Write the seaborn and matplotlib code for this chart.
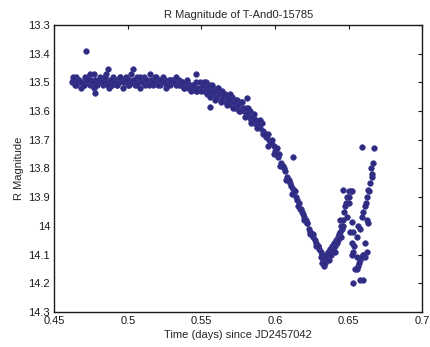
import numpy as np
import pandas as pd
import seaborn as sns
import matplotlib
matplotlib.use('Agg')
import matplotlib.pyplot as plt

# Pontos (tempo em dias desde JD2457042, magnitude R)
plateau_t = [0.462, 0.463, 0.464, 0.465, 0.466, 0.467, 0.468, 0.469, 0.470, 0.471,
             0.472, 0.473, 0.474, 0.475, 0.476, 0.477, 0.478, 0.479, 0.480, 0.481,
             0.482, 0.483, 0.484, 0.485, 0.486, 0.487, 0.488, 0.489, 0.490, 0.491,
             0.492, 0.493, 0.494, 0.495, 0.496, 0.497, 0.498, 0.499, 0.500, 0.501,
             0.502, 0.503, 0.504, 0.505, 0.506, 0.507, 0.508, 0.509, 0.510, 0.511,
             0.512, 0.513, 0.514, 0.515, 0.516, 0.517, 0.518, 0.519, 0.520, 0.521,
             0.522, 0.523, 0.524, 0.525, 0.526, 0.527, 0.528, 0.529, 0.530, 0.531,
             0.532, 0.533, 0.534, 0.535, 0.536, 0.537, 0.538, 0.539, 0.540, 0.541,
             0.542, 0.543, 0.544, 0.545, 0.546, 0.547, 0.548]
plateau_m = [13.50, 13.49, 13.51, 13.48, 13.50, 13.49, 13.52, 13.50, 13.51, 13.48,
             13.50, 13.48, 13.51, 13.49, 13.50, 13.52, 13.49, 13.51, 13.50, 13.48,
             13.49, 13.51, 13.50, 13.47, 13.50, 13.52, 13.49, 13.51, 13.48, 13.50,
             13.49, 13.51, 13.50, 13.48, 13.49, 13.52, 13.50, 13.48, 13.51, 13.49,
             13.47, 13.50, 13.49, 13.51, 13.48, 13.50, 13.52, 13.49, 13.50, 13.48,
             13.51, 13.49, 13.50, 13.47, 13.49, 13.51, 13.50, 13.48, 13.50, 13.49,
             13.51, 13.50, 13.48, 13.49, 13.52, 13.50, 13.49, 13.51, 13.49, 13.50,
             13.49, 13.51, 13.50, 13.49, 13.51, 13.50, 13.52, 13.51, 13.50, 13.52,
             13.51, 13.53, 13.51, 13.52, 13.50, 13.53, 13.52]

plateau2_t = [0.4625, 0.4645, 0.4665, 0.4685, 0.4705, 0.4725, 0.4745, 0.4765, 0.4785, 0.4805,
              0.4825, 0.4845, 0.4865, 0.4885, 0.4905, 0.4925, 0.4945, 0.4965, 0.4985, 0.5005,
              0.5025, 0.5045, 0.5065, 0.5085, 0.5105, 0.5125, 0.5145, 0.5165, 0.5185, 0.5205,
              0.5225, 0.5245, 0.5265, 0.5285, 0.5305, 0.5325, 0.5345, 0.5365, 0.5385, 0.5405,
              0.5425, 0.5445, 0.5465]
plateau2_m = [13.48, 13.51, 13.49, 13.50, 13.51, 13.49, 13.47, 13.50, 13.51, 13.49,
              13.50, 13.48, 13.51, 13.49, 13.50, 13.51, 13.48, 13.50, 13.49, 13.51,
              13.50, 13.49, 13.51, 13.48, 13.50, 13.49, 13.51, 13.50, 13.48, 13.51,
              13.49, 13.50, 13.51, 13.49, 13.50, 13.48, 13.51, 13.50, 13.52, 13.49,
              13.52, 13.51, 13.53]

descida_t = [0.549, 0.550, 0.551, 0.552, 0.553, 0.554, 0.555, 0.556, 0.557, 0.558,
             0.559, 0.560, 0.561, 0.562, 0.563, 0.564, 0.565, 0.566, 0.567, 0.568,
             0.569, 0.570, 0.571, 0.572, 0.573, 0.574, 0.575, 0.576, 0.577, 0.578,
             0.579, 0.580, 0.581, 0.582, 0.583, 0.584, 0.585, 0.586, 0.587, 0.588,
             0.589, 0.590, 0.591, 0.592, 0.593, 0.594, 0.595, 0.596, 0.597, 0.598,
             0.599, 0.600, 0.601, 0.602, 0.603, 0.604, 0.605, 0.606, 0.607, 0.608,
             0.609, 0.610, 0.611, 0.612, 0.613, 0.614, 0.615, 0.616, 0.617, 0.618,
             0.619, 0.620, 0.621, 0.622, 0.623, 0.624, 0.625, 0.626, 0.627, 0.628,
             0.629, 0.630, 0.631, 0.632, 0.633]
descida_m = [13.50, 13.52, 13.51, 13.53, 13.50, 13.52, 13.53, 13.51, 13.54, 13.52,
             13.53, 13.55, 13.52, 13.54, 13.56, 13.53, 13.55, 13.54, 13.57, 13.55,
             13.56, 13.58, 13.55, 13.57, 13.59, 13.56, 13.58, 13.60, 13.57, 13.59,
             13.60, 13.59, 13.61, 13.62, 13.60, 13.63, 13.62, 13.64, 13.63, 13.65,
             13.65, 13.66, 13.64, 13.67, 13.68, 13.69, 13.68, 13.70, 13.71, 13.70,
             13.72, 13.74, 13.73, 13.76, 13.75, 13.78, 13.79, 13.80, 13.81, 13.83,
             13.84, 13.85, 13.86, 13.87, 13.88, 13.90, 13.91, 13.92, 13.94, 13.95,
             13.96, 13.97, 13.98, 13.99, 14.01, 14.02, 14.03, 14.04, 14.05, 14.06,
             14.07, 14.08, 14.09, 14.10, 14.11]

descida2_t = [0.5495, 0.5515, 0.5535, 0.5555, 0.5575, 0.5595, 0.5615, 0.5635, 0.5655, 0.5675,
              0.5695, 0.5715, 0.5735, 0.5755, 0.5775, 0.5795, 0.5815, 0.5835, 0.5855, 0.5875,
              0.5895, 0.5915, 0.5935, 0.5955, 0.5975, 0.5995, 0.6015, 0.6035, 0.6055, 0.6075,
              0.6095, 0.6115, 0.6135, 0.6155, 0.6175, 0.6195, 0.6215, 0.6235, 0.6255, 0.6275,
              0.6295, 0.6315]
descida2_m = [13.53, 13.50, 13.54, 13.55, 13.51, 13.56, 13.52, 13.57, 13.54, 13.58,
              13.54, 13.59, 13.56, 13.60, 13.57, 13.62, 13.59, 13.64, 13.61, 13.66,
              13.63, 13.68, 13.68, 13.72, 13.71, 13.75, 13.75, 13.79, 13.79, 13.84,
              13.84, 13.89, 13.88, 13.93, 13.94, 13.98, 13.99, 14.03, 14.03, 14.07,
              14.07, 14.11]

minimo_t = [0.6320, 0.6325, 0.6330, 0.6335, 0.6340, 0.6345, 0.6350, 0.6355, 0.6360, 0.6365,
            0.6370, 0.6375, 0.6380, 0.6385, 0.6390]
minimo_m = [14.13, 14.12, 14.11, 14.14, 14.13, 14.10, 14.12, 14.11, 14.09, 14.12,
            14.10, 14.08, 14.10, 14.09, 14.07]

subida_t = [0.6395, 0.6400, 0.6405, 0.6410, 0.6415, 0.6420, 0.6425, 0.6430, 0.6435, 0.6440,
            0.6445, 0.6450, 0.6455, 0.6460, 0.6465, 0.6470, 0.6475, 0.6480, 0.6490, 0.6500,
            0.6505, 0.6515, 0.6460, 0.6520]
subida_m = [14.08, 14.06, 14.09, 14.07, 14.05, 14.06, 14.04, 14.05, 14.03, 14.02,
            14.04, 14.00, 14.01, 13.98, 14.00, 13.95, 13.93, 13.92, 13.90, 13.88,
            13.92, 13.88, 13.875, 13.88]

ramo2_t = [0.6487, 0.6521, 0.6440, 0.6528, 0.6555, 0.6521, 0.6528, 0.6555, 0.6575, 0.6521,
           0.6541, 0.6528, 0.6575, 0.6596, 0.6562, 0.6555, 0.6609, 0.6623, 0.6600, 0.6510,
           0.6535, 0.6568, 0.6500]
ramo2_m = [13.97, 13.985, 13.98, 14.02, 14.04, 14.06, 14.09, 14.11, 14.12, 14.10,
           14.15, 14.20, 14.19, 14.19, 14.14, 14.15, 14.11, 14.09, 14.10, 14.02,
           14.07, 14.13, 13.90]

ramo3_t = [0.6589, 0.6670, 0.6663, 0.6656, 0.6643, 0.6630, 0.6623, 0.6609, 0.6596, 0.6589,
           0.6623, 0.6630, 0.6562, 0.6575, 0.6609, 0.6596, 0.6589, 0.6650, 0.6660, 0.6636,
           0.6616]
ramo3_m = [13.725, 13.73, 13.78, 13.83, 13.85, 13.875, 13.90, 13.93, 13.95, 13.97,
           13.98, 13.99, 14.00, 14.01, 14.06, 14.10, 14.11, 13.80, 13.82, 13.88,
           13.92]

outlier_t = [0.4717, 0.4770, 0.4778, 0.4867, 0.5036, 0.5463, 0.5558, 0.5807, 0.6121]
outlier_m = [13.39, 13.47, 13.537, 13.455, 13.455, 13.47, 13.585, 13.555, 13.761]

tempo = (plateau_t + plateau2_t + descida_t + descida2_t + minimo_t + subida_t
         + ramo2_t + ramo3_t + outlier_t)
magnitude = (plateau_m + plateau2_m + descida_m + descida2_m + minimo_m + subida_m
             + ramo2_m + ramo3_m + outlier_m)
df = pd.DataFrame({'tempo': tempo, 'magnitude': magnitude})

x_ticks = [0.45, 0.5, 0.55, 0.6, 0.65, 0.7]
x_labels = ['0.45', '0.5', '0.55', '0.6', '0.65', '0.7']
y_ticks = [13.3, 13.4, 13.5, 13.6, 13.7, 13.8, 13.9, 14.0, 14.1, 14.2, 14.3]
y_labels = ['13.3', '13.4', '13.5', '13.6', '13.7', '13.8', '13.9', '14', '14.1', '14.2', '14.3']

sns.set_style('white')
plt.rcParams['font.family'] = ['Liberation Sans', 'DejaVu Sans']

fig = plt.figure(figsize=(4.30, 3.47), dpi=100)
ax = fig.add_axes([0.126, 0.101, 0.856, 0.827])
sns.scatterplot(x='tempo', y='magnitude', data=df, ax=ax, marker='o', s=16,
                color='#2e2b80', edgecolor='#3a3690', linewidth=0.5)

ax.set_xlim(0.45, 0.7)
ax.set_ylim(14.3, 13.3)
ax.set_xticks(x_ticks)
ax.set_xticklabels(x_labels)
ax.set_yticks(y_ticks)
ax.set_yticklabels(y_labels)
ax.tick_params(direction='in', length=3, width=0.8, top=True, right=True,
               labelsize=8, colors='#1a1a1a', pad=3)
for lado in ax.spines.values():
    lado.set_color('#1a1a1a')
    lado.set_linewidth(1.0)

ax.set_title('R Magnitude of T-And0-15785', fontsize=8, pad=5)
ax.set_xlabel('Time (days) since JD2457042', fontsize=8, labelpad=3)
ax.set_ylabel('R Magnitude', fontsize=8, labelpad=3)

fig.savefig('out.png', dpi=100)
